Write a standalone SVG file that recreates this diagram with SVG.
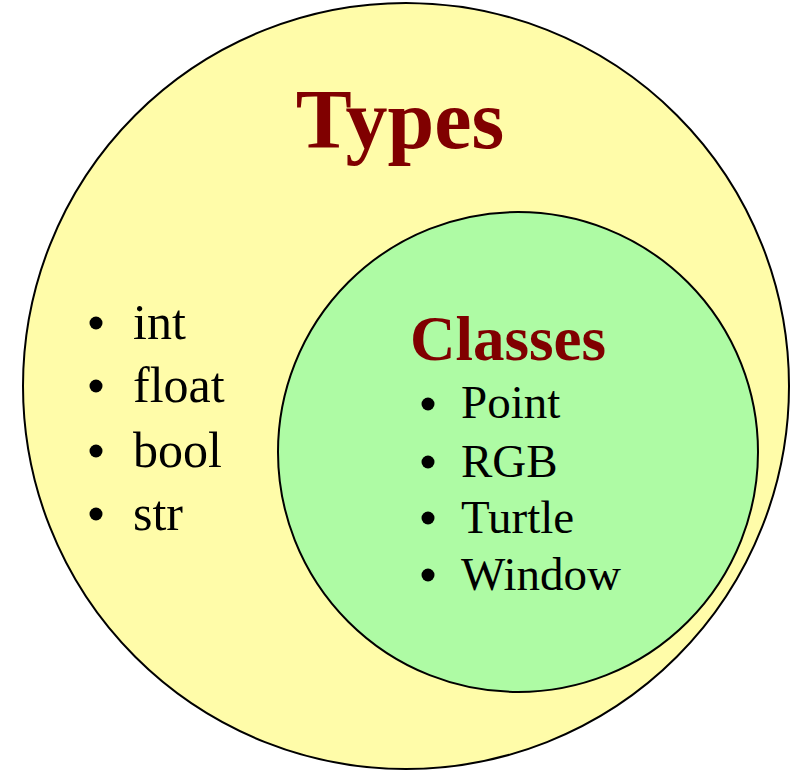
<svg xmlns="http://www.w3.org/2000/svg" width="792" height="770" viewBox="0 0 792 770">
<style>
.t{font-family:"Liberation Serif","Times New Roman",serif}
.h{font-weight:bold;fill:#800000}
.i{fill:#000}
</style>
<rect width="792" height="770" fill="#fff"/>
<g id="types">
<circle cx="406" cy="386" r="383" fill="#fffca9" stroke="#000" stroke-width="2"/>
<text class="t h" x="400" y="148" font-size="84" text-anchor="middle">Types</text>
<g class="i">
<circle cx="96" cy="323" r="6.5"/>
<circle cx="96" cy="386" r="6.5"/>
<circle cx="96" cy="451" r="6.5"/>
<circle cx="96" cy="514" r="6.5"/>
</g>
<g class="t i" font-size="50">
<text x="133" y="339">int</text>
<text x="133" y="402">float</text>
<text x="133" y="467">bool</text>
<text x="133" y="530">str</text>
</g>
</g>
<g id="classes">
<circle cx="518" cy="452" r="240" fill="#aefba4" stroke="#000" stroke-width="2"/>
<text class="t h" x="508" y="360" font-size="63" text-anchor="middle">Classes</text>
<g class="i">
<circle cx="428" cy="404" r="6.5"/>
<circle cx="428" cy="462" r="6.5"/>
<circle cx="428" cy="518" r="6.5"/>
<circle cx="428" cy="575" r="6.5"/>
</g>
<g class="t i" font-size="47">
<text x="461" y="418">Point</text>
<text x="461" y="477">RGB</text>
<text x="461" y="533">Turtle</text>
<text x="461" y="590">Window</text>
</g>
</g>
</svg>
